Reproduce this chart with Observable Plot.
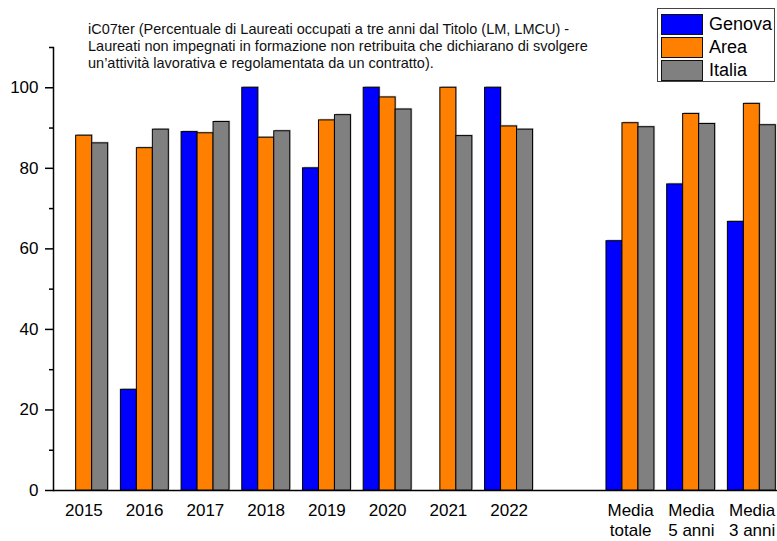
<!DOCTYPE html>
<html>
<head>
<meta charset="utf-8">
<script src="https://cdn.jsdelivr.net/npm/d3@7"></script>
<script src="https://cdn.jsdelivr.net/npm/@observablehq/plot@0.6"></script>
<style>
  html, body { margin: 0; padding: 0; background: #fff; overflow: hidden; }
  #wrap { position: relative; width: 777px; height: 541px; overflow: hidden; font-family: "Liberation Sans", Arial, sans-serif; }
  #wrap svg { position: absolute; left: 0; top: 0; max-width: none !important; }
  #title { position: absolute; left: 88px; top: 21px; font-size: 14.5px; line-height: 17px; color: #111; white-space: nowrap; }
  #legend { position: absolute; left: 657px; top: 8px; width: 118px; height: 74px; border: 1px solid #444; background: #fff; box-sizing: border-box; }
  .row { position: absolute; left: 3px; height: 21px; display: flex; align-items: center; }
  .sw { width: 40px; height: 19px; border: 1.2px solid #111; margin-right: 6px; }
  .lab { font-size: 18px; color: #000; }
</style>
</head>
<body>
<div id="wrap">
  <div id="title">iC07ter (Percentuale di Laureati occupati a tre anni dal Titolo (LM, LMCU) -<br>Laureati non impegnati in formazione non retribuita che dichiarano di svolgere<br>un’attività lavorativa e regolamentata da un contratto).</div>
</div>
<script>
// ---- data ----
const years = ["2015", "2016", "2017", "2018", "2019", "2020", "2021", "2022"];
const medie = ["Media totale", "Media 5 anni", "Media 3 anni"];
const categories = [...years, ...medie];
const slots = [...years, "", ...medie];
const series = ["Genova", "Area", "Italia"];
const colors = ["#0000ff", "#ff8000", "#808080"];
const genova = [null, 25.0, 89.0, 100, 80.0, 100, null, 100, 61.9, 76.0, 66.7];
const area   = [88.1, 85.0, 88.7, 87.6, 91.9, 97.6, 100, 90.4, 91.2, 93.5, 96.0];
const italia = [86.2, 89.6, 91.5, 89.2, 93.2, 94.6, 88.0, 89.6, 90.2, 91.0, 90.7];
const majorTicks = [0, 20, 40, 60, 80, 100];
const minorTicks = [10, 30, 50, 70, 90, 110];

const values = {Genova: genova, Area: area, Italia: italia};
const data = [];
categories.forEach((c, i) => series.forEach(s => {
  const v = values[s][i];
  if (v != null) data.push({cat: c, series: s, value: v});
}));

const W = 782, H = 541;
const common = {
  width: W, height: H,
  marginLeft: 53, marginRight: 0, marginTop: 47, marginBottom: 51,
  style: {fontFamily: "'Liberation Sans', Arial, sans-serif", background: "transparent", overflow: "visible", maxWidth: "none"}
};
const band = {domain: slots, paddingInner: 0.21, paddingOuter: 0.11, round: false};
const yScale = {domain: [0, 110]};

// bars layer (faceted by category)
const bars = Plot.plot({
  ...common,
  fx: {...band, axis: null},
  x: {domain: series, padding: 0, round: false, axis: null},
  y: {...yScale, axis: null},
  color: {domain: series, range: colors},
  marks: [
    Plot.barY(data, {fx: "cat", x: "series", y: "value", fill: "#c8c8c8", dx: 1.2, dy: -1.2}),
    Plot.barY(data, {fx: "cat", x: "series", y: "value", fill: "series", stroke: "#000", strokeWidth: 1})
  ]
});

// axes layer
const axes = Plot.plot({
  ...common,
  x: {...band, axis: null},
  y: {...yScale, axis: null},
  marks: [
    Plot.axisX({
      anchor: "bottom", tickSize: 0, tickPadding: 12, fontSize: 17, lineHeight: 1.15,
      fill: "#000",
      tickFormat: d => d.startsWith("Media") ? d.replace(" ", "\n") : d
    }),
    Plot.axisY(minorTicks, {anchor: "left", tickSize: 4, text: null, stroke: "#000", strokeWidth: 1.5}),
    Plot.axisY(majorTicks, {anchor: "left", tickSize: 8, tickPadding: 7, fontSize: 17, fill: "#000", stroke: "#000", strokeWidth: 1.5}),
    Plot.frame({anchor: "left", stroke: "#000", strokeWidth: 1.5}),
    Plot.ruleY([0], {stroke: "#000", strokeWidth: 1.5})
  ]
});

const wrap = document.getElementById("wrap");
wrap.insertBefore(axes, wrap.firstChild);
wrap.insertBefore(bars, axes.nextSibling);

// legend
const legend = document.createElement("div");
legend.id = "legend";
series.forEach((s, i) => {
  const row = document.createElement("div");
  row.className = "row";
  row.style.top = (5 + i * 23) + "px";
  const sw = document.createElement("div");
  sw.className = "sw";
  sw.style.background = colors[i];
  const lab = document.createElement("span");
  lab.className = "lab";
  lab.textContent = s;
  row.appendChild(sw); row.appendChild(lab);
  legend.appendChild(row);
});
wrap.appendChild(legend);
</script>
</body>
</html>
